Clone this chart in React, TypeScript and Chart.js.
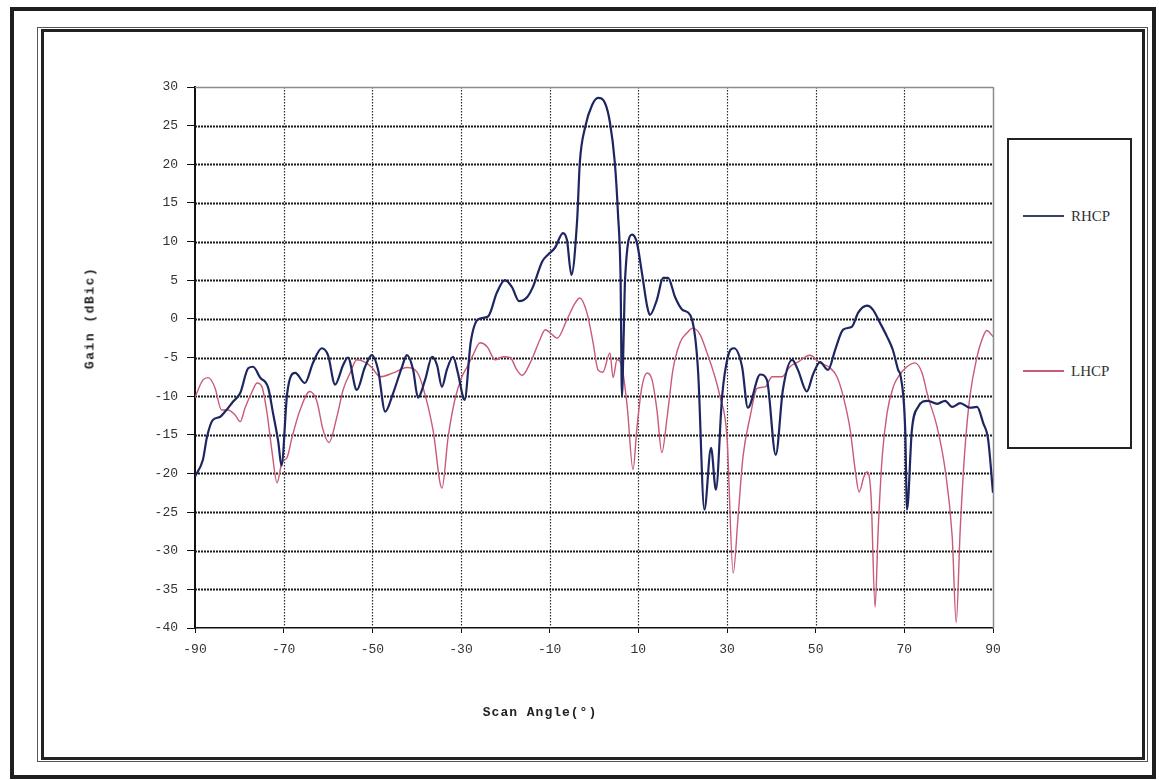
import React, { useEffect, useRef } from 'react';
import { Chart, registerables } from 'chart.js';

Chart.register(...registerables);

// ---- data ----
const xTickValues = [-90, -70, -50, -30, -10, 10, 30, 50, 70, 90];
const yTickValues = [-40, -35, -30, -25, -20, -15, -10, -5, 0, 5, 10, 15, 20, 25, 30];

const rhcpAngle = [
  -90, -88.2, -87.3, -86, -84.4, -83.2, -81.4, -79.8, -78, -76.9, -75.3, -73.5, -72.4, -71.2, -70.5, -69.2,
  -67.4, -65.2, -63.4, -61.4, -60, -58.4, -56.6, -55.5, -53.5, -51.7, -50.1, -48.7, -47.1, -45.3, -43.3, -42.2,
  -40.8, -39.7, -38.1, -36.5, -35.4, -34.3, -33.2, -31.8, -30.7, -29.5, -29.2, -27.8, -26.2, -23.9, -21.9, -20.1,
  -18.5, -16.9, -15.1, -13.8, -11.7, -10.4, -8.8, -7, -6.1, -5.1, -3.8, -3.2, -2, -0.4, 0.9, 2.5, 3.6, 4.7, 5.4,
  6.0, 6.3, 6.7, 7.0, 8.6, 9.7, 10.8, 12, 12.6, 14.2, 15.6, 16.7, 18.3, 19.9, 21.7, 22.8, 23.5, 24.9, 26.4, 27.5,
  28.9, 30.2, 31.6, 33.4, 34.7, 37.5, 39, 41, 42.6, 44.7, 46, 48, 49.4, 51, 52.8, 54.4, 56.2, 58.2, 59.6, 61.6,
  62.9, 64.5, 66.1, 67.4, 68.6, 69.2, 70.2, 70.6, 71.7, 73.1, 75.3, 77.4, 79.2, 80.8, 82.6, 84.8, 86.4, 87.8,
  88.9, 90,
];
const rhcpGain = [
  -20.4, -18.2, -15.3, -13.1, -12.7, -12.0, -10.7, -9.6, -6.4, -6.2, -7.6, -8.9, -12.2, -16.0, -19.0, -9.6,
  -7.0, -8.3, -5.7, -3.8, -4.7, -8.5, -6.0, -5.0, -9.2, -6.3, -4.7, -6.6, -12.0, -9.6, -6.2, -4.7,
  -6.6, -10.2, -7.9, -4.9, -6.0, -8.8, -6.6, -4.9, -7.0, -10.2, -10.5, -3.0, -0.1, 0.3, 3.4, 5.0,
  4.1, 2.3, 2.8, 4.1, 7.4, 8.3, 9.2, 11.1, 10.2, 5.7, 12.8, 20.2, 24.8, 27.7, 28.6, 27.9, 25.4, 20.2, 13.7,
  5.0, -10.0, -2.0, 5.0, 10.9, 9.8, 6.0, 1.6, 0.5, 2.5, 5.3, 5.3, 2.8, 1.2, 0.5, -2.3, -7.0, -24.7, -16.7, -22.1,
  -10.0, -4.9, -3.8, -6.2, -11.5, -7.2, -7.9, -17.6, -9.2, -5.3, -6.6, -9.4, -7.2, -5.6, -6.6, -4.0, -1.4, -1.0, 0.8, 1.7,
  1.2, -0.5, -2.3, -4.0, -6.6, -7.5, -14.4, -24.7, -14.4, -11.4, -10.6, -11.0, -10.6, -11.4, -10.9, -11.5, -11.4, -13.5,
  -15.6, -22.5,
];

const lhcpAngle = [
  -90, -89.6, -88.2, -87, -85.5, -84, -82.6, -81, -79.8, -78.7, -77.1, -76, -74.9, -73.8, -72.6, -71.5, -70.4,
  -69.2, -68.1, -66.3, -64.1, -62.5, -61.1, -59.8, -58, -56.6, -55, -53.5, -51.7, -50.1, -48.3, -45.3, -42.2,
  -39.9, -38.6, -36.3, -34.3, -32.9, -31.4, -29.8, -28.6, -27.3, -25.7, -24.1, -22.3, -20.5, -18.9, -17.5, -16.2,
  -14.4, -12.2, -11, -9.9, -8.3, -6.1, -4.3, -3.2, -1.6, -0.2, 0.9, 2.0, 3.6, 4.3, 5.2, 6.3, 7.5, 8.8, 9.7,
  10.8, 12, 13.1, 14.2, 15.3, 16.5, 17.8, 19.4, 21, 22.3, 23.9, 25.5, 26.8, 28.4, 30, 31.4, 32.5, 33.6, 35.2,
  36.8, 38.6, 40.2, 42.4, 44.2, 46, 48.7, 51, 53.2, 54.8, 56.2, 57.8, 58.9, 59.8, 60.9, 61.6, 62.5, 63.4, 64.1,
  65, 66.1, 67.5, 69, 70.6, 72.4, 74, 75.3, 77.4, 79.2, 80.8, 81.7, 82.6, 83.7, 84.8, 86.4, 87.5, 88.6, 90,
];
const lhcpGain = [
  -10.2, -9.6, -7.9, -7.6, -8.9, -11.8, -11.8, -12.4, -13.3, -11.5, -9.4, -8.3, -8.8, -12.0, -17.3, -21.2, -18.6,
  -17.9, -15.3, -11.8, -9.4, -10.7, -14.4, -16.0, -12.7, -9.2, -7.0, -5.3, -5.6, -6.3, -7.5, -7.0, -6.3,
  -6.9, -8.8, -14.4, -21.9, -15.3, -10.5, -7.5, -6.2, -4.7, -3.1, -3.6, -5.3, -4.9, -5.0, -6.5, -7.3,
  -5.7, -2.7, -1.4, -1.8, -2.5, -0.1, 2.0, 2.7, 0.8, -3.1, -6.6, -6.9, -4.4, -7.6, -5.3, -6.2, -11.4, -19.5, -14.0,
  -8.8, -7.0, -7.9, -11.8, -17.3, -12.7, -6.6, -3.1, -1.8, -1.2, -2.0, -4.4, -6.6, -10.0, -15.3, -32.9, -25.6, -17.9, -12.7,
  -9.0, -8.8, -7.5, -7.5, -6.2, -5.6, -4.7, -5.7, -6.3, -7.5, -10.0, -14.4, -19.5, -22.4, -20.4, -19.8, -23.0, -37.3, -27.3,
  -17.9, -12.2, -8.8, -7.2, -6.2, -5.7, -7.0, -10.0, -14.0, -19.5, -28.2, -39.3, -27.3, -16.6, -10.0, -4.9, -2.7, -1.5, -2.3,
];

const seriesNames = ['RHCP', 'LHCP'];
const seriesColors = ['#1d2660', '#c95a78'];

const X_MIN = -90;
const X_MAX = 90;
const Y_MIN = -40;
const Y_MAX = 30;

const monoFont = '"Liberation Mono", "DejaVu Sans Mono", monospace';

const gridPlugin = {
  id: 'customGrid',
  beforeDatasetsDraw(chart: any) {
    const { ctx, chartArea: a, scales } = chart;
    const x = scales.x;
    const y = scales.y;
    ctx.save();
    // vertical lines
    for (const v of xTickValues) {
      if (v === X_MIN) continue;
      const px = Math.round(x.getPixelForValue(v)) + 0.5;
      ctx.beginPath();
      if (v === X_MAX) {
        ctx.setLineDash([]);
        ctx.strokeStyle = '#8c8c8c';
        ctx.lineWidth = 1.5;
      } else {
        ctx.setLineDash([1.5, 1.5]);
        ctx.strokeStyle = '#2a2a2a';
        ctx.lineWidth = 1.2;
      }
      ctx.moveTo(px, a.top);
      ctx.lineTo(px, a.bottom);
      ctx.stroke();
    }
    // horizontal lines
    for (const v of yTickValues) {
      if (v === Y_MIN) continue;
      const py = Math.round(y.getPixelForValue(v)) + 0.5;
      ctx.beginPath();
      if (v === Y_MAX) {
        ctx.setLineDash([]);
        ctx.strokeStyle = '#8c8c8c';
        ctx.lineWidth = 1.5;
      } else {
        ctx.setLineDash([2, 1]);
        ctx.strokeStyle = '#1a1a1a';
        ctx.lineWidth = 1.8;
      }
      ctx.moveTo(a.left, py);
      ctx.lineTo(a.right, py);
      ctx.stroke();
    }
    ctx.restore();
  },
};

export default function App() {
  const canvasRef = useRef<HTMLCanvasElement | null>(null);

  useEffect(() => {
    const canvas = canvasRef.current;
    if (!canvas) return;
    const toPoints = (xs: number[], ys: number[]) => xs.map((v, i) => ({ x: v, y: ys[i] }));
    const chart = new Chart(canvas, {
      type: 'line',
      data: {
        datasets: [
          {
            label: seriesNames[0],
            data: toPoints(rhcpAngle, rhcpGain),
            borderColor: seriesColors[0],
            borderWidth: 2.2,
            pointRadius: 0,
            cubicInterpolationMode: 'monotone',
            fill: false,
          },
          {
            label: seriesNames[1],
            data: toPoints(lhcpAngle, lhcpGain),
            borderColor: seriesColors[1],
            borderWidth: 1.4,
            pointRadius: 0,
            cubicInterpolationMode: 'monotone',
            fill: false,
          },
        ],
      },
      options: {
        responsive: false,
        animation: false,
        devicePixelRatio: 1,
        layout: { padding: { left: 145, top: 87, right: 166, bottom: 112 } },
        plugins: {
          legend: { display: false },
          tooltip: { enabled: false },
          title: { display: false },
        },
        scales: {
          x: {
            type: 'linear',
            min: X_MIN,
            max: X_MAX,
            afterBuildTicks: (scale: any) => {
              scale.ticks = xTickValues.map((v) => ({ value: v }));
            },
            afterFit: (scale: any) => {
              scale.height = 40;
            },
            ticks: {
              autoSkip: false,
              maxRotation: 0,
              padding: 9,
              color: '#333',
              font: { family: monoFont, size: 13 },
            },
            grid: {
              drawOnChartArea: false,
              drawTicks: true,
              tickLength: 5,
              color: '#111',
              lineWidth: 1,
            },
            border: { display: true, color: '#111', width: 1.5 },
          },
          y: {
            type: 'linear',
            min: Y_MIN,
            max: Y_MAX,
            afterBuildTicks: (scale: any) => {
              scale.ticks = yTickValues.map((v) => ({ value: v }));
            },
            afterFit: (scale: any) => {
              scale.width = 50;
            },
            ticks: {
              autoSkip: false,
              padding: 9,
              color: '#333',
              font: { family: monoFont, size: 13 },
            },
            grid: {
              drawOnChartArea: false,
              drawTicks: true,
              tickLength: 8,
              color: '#111',
              lineWidth: 1,
            },
            border: { display: true, color: '#111', width: 2 },
          },
        },
      },
      plugins: [gridPlugin],
    } as any);
    return () => chart.destroy();
  }, []);

  const abs = (s: React.CSSProperties): React.CSSProperties => ({ position: 'absolute', boxSizing: 'border-box', ...s });
  const legendText: React.CSSProperties = {
    transform: 'translateY(-50%)',
    fontFamily: '"Liberation Serif", "DejaVu Serif", serif',
    fontSize: 15,
    color: '#333',
    whiteSpace: 'nowrap',
  };

  return (
    <div style={abs({ left: 0, top: 0, width: 1159, height: 780, background: '#fff', overflow: 'hidden' })}>
      {/* outer frame */}
      <div style={abs({ left: 10, top: 7, width: 1146, height: 772, border: '4px solid #1e1e1e' })} />
      {/* inner frame */}
      <div style={abs({ left: 37, top: 27, width: 1111, height: 735, border: '1px solid #555' })} />
      <div style={abs({ left: 41, top: 29, width: 1104, height: 731, border: '3px solid #222' })} />
      <canvas ref={canvasRef} width={1159} height={780} style={abs({ left: 0, top: 0, width: 1159, height: 780 })} />
      {/* axis titles */}
      <div
        style={abs({
          left: 90,
          top: 318,
          transform: 'translate(-50%, -50%) rotate(-90deg)',
          whiteSpace: 'nowrap',
          fontFamily: monoFont,
          fontWeight: 'bold',
          fontSize: 13,
          letterSpacing: 1.5,
          color: '#222',
        })}
      >
        Gain (dBic)
      </div>
      <div
        style={abs({
          left: 540,
          top: 712,
          transform: 'translate(-50%, -50%)',
          whiteSpace: 'nowrap',
          fontFamily: monoFont,
          fontWeight: 'bold',
          fontSize: 13,
          letterSpacing: 1,
          color: '#222',
        })}
      >
        Scan Angle(°)
      </div>
      {/* legend */}
      <div style={abs({ left: 1007, top: 138, width: 125, height: 311, border: '2px solid #222', background: '#fff' })} />
      <div style={abs({ left: 1023, top: 215, width: 41, height: 1.5, background: '#3a4060' })} />
      <div style={abs({ left: 1071, top: 216, ...legendText })}>{seriesNames[0]}</div>
      <div style={abs({ left: 1023, top: 370, width: 41, height: 1.5, background: seriesColors[1] })} />
      <div style={abs({ left: 1071, top: 371, ...legendText })}>{seriesNames[1]}</div>
    </div>
  );
}
